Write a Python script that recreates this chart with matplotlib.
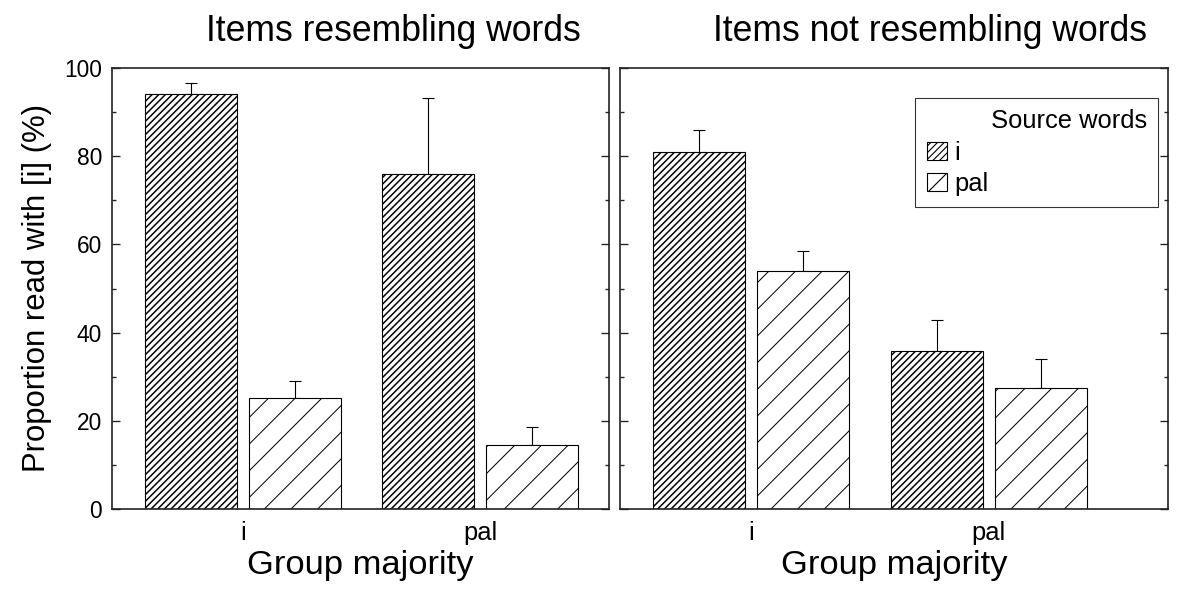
import matplotlib
matplotlib.use("Agg")
import matplotlib.pyplot as plt
import numpy as np

plt.rcParams['font.family'] = ['Liberation Sans', 'DejaVu Sans']
plt.rcParams['hatch.color'] = 'black'

# ---------------- data ----------------
groups = ['i', 'pal']                      # group majority
sources = ['i', 'pal']                     # source words (legend)
panel_titles = ['Items resembling words', 'Items not resembling words']

# panel 1: items resembling words
res_i = [94.1, 76.0]
res_i_err = [2.6, 17.2]
res_pal = [25.2, 14.4]
res_pal_err = [3.9, 4.2]

# panel 2: items not resembling words
nores_i = [81.0, 35.8]
nores_i_err = [4.9, 7.0]
nores_pal = [54.0, 27.5]
nores_pal_err = [4.4, 6.5]

hatches = ['////', '/']
hatch_lw = [1.35, 0.9]
spine_col = '#222222'

fig = plt.figure(figsize=(1178 / 80, 590 / 80), dpi=80)
# left panel 112-609 px, right panel 620-1168 px, y 68-509 px
ax1 = fig.add_axes([112 / 1178, 81 / 590, 497 / 1178, 441 / 590])
ax2 = fig.add_axes([620 / 1178, 81 / 590, 548 / 1178, 441 / 590])

x = np.arange(len(groups))
w = 0.387
off = 0.219
xlims = [(-0.552, 1.543), (-0.552, 1.755)]

panels = [(ax1, res_i, res_i_err, res_pal, res_pal_err),
          (ax2, nores_i, nores_i_err, nores_pal, nores_pal_err)]

for k, (ax, vi, ei, vp, ep) in enumerate(panels):
    for j, (vals, errs) in enumerate([(vi, ei), (vp, ep)]):
        pos = x - off if j == 0 else x + off
        with plt.rc_context({'hatch.linewidth': hatch_lw[j]}):
            ax.bar(pos, vals, w, color='white', edgecolor='black',
                   linewidth=1.0, hatch=hatches[j], label=sources[j], zorder=2)
        ax.errorbar(pos, vals, yerr=[np.zeros(len(vals)), errs], fmt='none',
                    ecolor='black', elinewidth=1.0, capsize=5.5, capthick=1.0,
                    zorder=1)

    ax.set_xlim(*xlims[k])
    ax.set_ylim(0, 100)
    ax.set_xticks(x)
    ax.set_xticklabels(groups)
    ax.set_yticks(np.arange(0, 101, 20))
    ax.set_yticks(np.arange(10, 100, 20), minor=True)
    ax.tick_params(axis='x', length=0, labelsize=23, pad=11)
    ax.tick_params(axis='y', which='major', direction='in', length=7,
                   width=1.2, color=spine_col, left=True, right=True,
                   labelsize=20.5, pad=9)
    ax.tick_params(axis='y', which='minor', direction='in', length=4,
                   width=1.2, color=spine_col, left=True, right=True)
    for s in ax.spines.values():
        s.set_color(spine_col)
        s.set_linewidth(1.5)
    ax.set_xlabel('Group majority', fontsize=31, labelpad=4)
    ax.set_title(panel_titles[k], fontsize=32, x=0.566, pad=24)

ax1.set_ylabel('Proportion read with [i] (%)', fontsize=28, labelpad=11)
ax2.tick_params(axis='y', labelleft=False)

leg = ax2.legend(title='         Source words', loc='upper right',
                 bbox_to_anchor=(0.982, 0.932), borderaxespad=0,
                 fontsize=23, title_fontsize=23, alignment='left',
                 frameon=True, fancybox=False, edgecolor='black',
                 handlelength=0.8, handleheight=0.7, handletextpad=0.3,
                 labelspacing=0.28, borderpad=0.45)
leg.get_frame().set_linewidth(1.0)

fig.savefig('out.png', dpi=80)
